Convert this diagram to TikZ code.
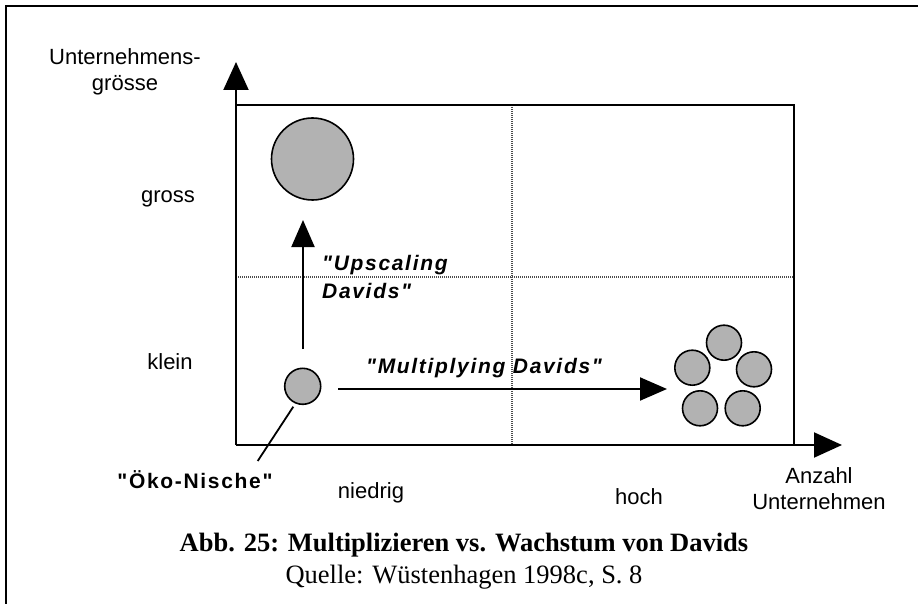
\documentclass[tikz,border=0pt]{standalone}
\usepackage{fontspec}
\setmainfont{Liberation Serif}
\newfontfamily\helv{Liberation Sans}
\newfontfamily\helvB[LetterSpace=8]{Liberation Sans Bold}
\newfontfamily\helvBI[LetterSpace=8]{Liberation Sans Bold Italic}
\usetikzlibrary{arrows.meta}
\begin{document}
\begin{tikzpicture}[x=1pt,y=-1pt,
  lbl/.style={font=\helv\fontsize{22}{26}\selectfont, inner sep=0pt, align=center},
  emph/.style={font=\helvBI\fontsize{21}{28}\selectfont, inner sep=0pt, align=left},
  axisline/.style={line width=2pt, -{Triangle[length=28pt,width=25pt]}},
  bigarrow/.style={line width=2pt, -{Triangle[length=27pt,width=23pt]}},
  gridline/.style={line width=1.3pt, black!70, dash pattern=on 1pt off 1pt},
  firm/.style={circle, draw, line width=1.6pt, fill=black!30, inner sep=0pt},
  framebox/.style={line width=2pt}]
\useasboundingbox (0,0) rectangle (918,604);
% frame
\draw[framebox] (6,604) -- (6,6) -- (918,6);
% coordinates
\coordinate (O) at (236,445);
\coordinate (ytip) at (236,62);
\coordinate (xtip) at (842,445);
\coordinate (TL) at (236,105);
\coordinate (TR) at (794,105);
\coordinate (BR) at (794,445);
\coordinate (ML) at (236,277);
\coordinate (MR) at (794,277);
\coordinate (MT) at (512,105);
\coordinate (MB) at (512,445);
% grid
\draw[gridline] (ML) -- (MR);
\draw[gridline] (MT) -- (MB);
% rectangle
\draw[line width=2pt] (TL) -- (TR) -- (BR);
% axes
\draw[axisline] (O) -- (ytip);
\draw[axisline] (O) -- (xtip);
% firms
\node[firm, minimum size=82pt] (B) at (312.5,159) {};
\node[firm, minimum size=36pt] (S) at (302.7,386.3) {};
\node[firm, minimum size=35pt] (C1) at (724,342.7) {};
\node[firm, minimum size=35pt] (C2) at (692.3,367.7) {};
\node[firm, minimum size=35pt] (C3) at (754,369.3) {};
\node[firm, minimum size=35pt] (C4) at (700,408.3) {};
\node[firm, minimum size=35pt] (C5) at (742.7,408.3) {};
% arrows
\coordinate (upS) at (303,349);
\coordinate (upE) at (303,220);
\draw[bigarrow] (upS) -- (upE);
\coordinate (mS) at (338,389);
\coordinate (mE) at (667,389);
\draw[bigarrow] (mS) -- (mE);
% labels
\node[lbl] (ylab) at (125,72) {Unternehmens-\\grösse};
\node[lbl] (xlab) at (819,489) {Anzahl\\Unternehmen};
\node[lbl] (gross) at (168,199) {gross};
\node[lbl] (klein) at (170,362) {klein};
\node[lbl] (niedrig) at (371,493) {niedrig};
\node[lbl] (hoch) at (639,497) {hoch};
\node[emph, anchor=west] (up) at (322,277) {"Upscaling\\Davids"};
\node[emph] (mult) at (484,368) {"Multiplying Davids"};
\node[font=\helvB\fontsize{21}{24}\selectfont, inner sep=0pt] (oeko) at (195,480) {"Öko-Nische"};
\coordinate (oekoT) at (257.7,461);
\coordinate (sP) at (293.3,406.7);
\draw[line width=1.8pt] (sP) -- (oekoT);
% caption
\node[font=\bfseries\fontsize{26.5}{30}\selectfont, inner sep=0pt] (cap) at (464,545) {Abb. 25: Multiplizieren vs. Wachstum von Davids};
\node[font=\fontsize{26.5}{30}\selectfont, inner sep=0pt] (src) at (464,577) {Quelle: Wüstenhagen 1998c, S. 8};
\end{tikzpicture}
\end{document}
